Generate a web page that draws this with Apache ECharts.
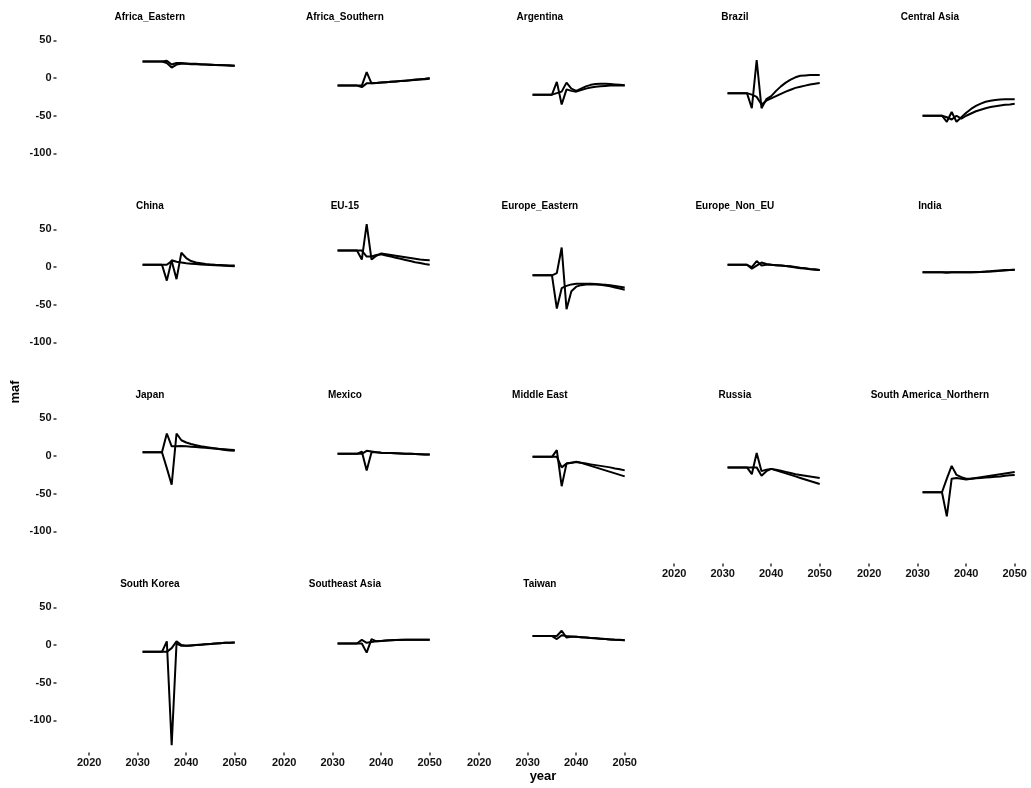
<!DOCTYPE html>
<html><head><meta charset="utf-8">
<script src="https://cdn.jsdelivr.net/npm/echarts@6/dist/echarts.min.js"></script>
<style>html,body{margin:0;padding:0;background:#fff}#c{width:1031px;height:788px}</style>
</head><body><div id="c"></div>
<script>
// ---------- data ----------
const years = [2031,2032,2033,2034,2035,2036,2037,2038,2039,2040,2041,2042,2043,2044,2045,2046,2047,2048,2049,2050];
const xDomain = [2015, 2050];
const xTicks = [2020, 2030, 2040, 2050];
const yTicks = [-100, -50, 0, 50];
const regions = ['Africa_Eastern','Africa_Southern','Argentina','Brazil','Central Asia',
  'China','EU-15','Europe_Eastern','Europe_Non_EU','India',
  'Japan','Mexico','Middle East','Russia','South America_Northern',
  'South Korea','Southeast Asia','Taiwan'];

const africaEastern_a = [22,22,22,22,22,20,14,18,19,19,18.5,18.5,18,18,17.5,17.5,17,17,16.5,16.5];
const africaEastern_b = [22,22,22,22,22,23,18,20,20,19.5,19,19,18.5,18,18,17.5,17.5,17,17,16.5];
const africaSouthern_a = [-10,-10,-10,-10,-10,-10,8,-7,-6.5,-6,-5.5,-5,-4.5,-4,-3.5,-3,-2.5,-2,-1.5,-1];
const africaSouthern_b = [-10,-10,-10,-10,-10,-12,-7,-7,-6.5,-6,-5.5,-5,-4.5,-4,-3.5,-3,-2,-1.5,-1,0];
const argentina_a = [-22,-22,-22,-22,-22,-5,-35,-15,-17,-18,-16,-14,-12.5,-11.5,-11,-10.5,-10,-10,-10,-10];
const argentina_b = [-22,-22,-22,-22,-22,-20,-18,-6,-14,-17,-14,-11,-9,-8,-7.5,-7.5,-8,-8.5,-9,-9.5];
const brazil_a = [-20,-20,-20,-20,-20,-40,24,-40,-28,-24,-17,-11,-6,-2,1,3,3.5,4,4,4];
const brazil_b = [-20,-20,-20,-20,-20,-22,-25,-35,-30,-27,-24,-21,-18,-15.5,-13,-11.5,-10,-8.5,-7.5,-6.5];
const centralAsia_a = [-50,-50,-50,-50,-50,-58,-45,-58,-52,-46,-41,-37,-34,-31.5,-30,-29,-28.5,-28,-28,-28];
const centralAsia_b = [-50,-50,-50,-50,-50,-52,-55,-50,-54,-50,-47,-44,-42,-40,-38.5,-37.5,-36.5,-35.5,-35,-34];
const china_a = [3,3,3,3,3,-18,9,7,6,5,4.5,4,3.5,3,2.7,2.4,2.1,1.8,1.5,1.2];
const china_b = [3,3,3,3,3,3,8,-16,19,12,8,6,5,4,3.5,3,2.7,2.4,2.1,2];
const eu15_a = [22,22,22,22,22,10,57,10,15,18,17,16,15,14,13,12,11,10,9.5,9];
const eu15_b = [22,22,22,22,22,22,14,14,16,17,15.5,14,12.5,11,9.5,8,6.5,5.5,4,3];
const europeEastern_a = [-11,-11,-11,-11,-11,-55,-28,-25,-23,-22,-22,-22,-22,-22.5,-23,-23.5,-24,-25,-26,-27];
const europeEastern_b = [-11,-11,-11,-11,-11,-8,26,-56,-32,-26,-24,-23,-23,-23,-23.5,-24.5,-25.5,-27,-28.5,-30];
const europeNonEU_a = [3,3,3,3,3,0,8,2,3,3,2.5,2,1.5,1,0,-1,-1.5,-2.5,-3,-4];
const europeNonEU_b = [3,3,3,3,3,-2,2,6,4,3,2.5,2,1.5,0.5,-0.5,-1.5,-2,-3,-3.5,-4];
const india_a = [-7,-7,-7,-7,-7,-7,-7,-7,-7,-7,-6.8,-6.6,-6.4,-6,-5.5,-5,-4.5,-4,-3.8,-3.5];
const india_b = [-7,-7,-7,-7,-7,-7.5,-7,-7,-7,-7,-7,-6.8,-6.6,-6.3,-6,-5.5,-5,-4.5,-4,-3.5];
const japan_a = [5,5,5,5,5,30,13,13,13.5,13,12.5,12,11.5,11,10.5,10,9.5,9,8.5,8];
const japan_b = [5,5,5,5,5,-16,-38,30,21,18,16,14.5,13,12,11,10,9,8,7.5,7];
const mexico_a = [3,3,3,3,3,6,-19,5,5,4.5,4.2,4,3.8,3.5,3.2,3,2.8,2.5,2.2,2];
const mexico_b = [3,3,3,3,3,3,7,6,5,4.5,4.2,4,3.8,3.5,3.2,3,2.8,2.5,2.2,2];
const middleEast_a = [-1,-1,-1,-1,-1,8,-40,-10,-9,-8,-9,-10,-11,-12,-13,-14,-15,-16.5,-17.5,-19];
const middleEast_b = [-1,-1,-1,-1,-1,-1,-15,-10,-9,-7.5,-9,-11,-13,-15,-17,-19,-21,-23,-25,-27];
const russia_a = [-15,-15,-15,-15,-15,-24,4,-20,-18,-17,-18,-19.5,-21,-22.5,-24,-25,-26,-27,-28,-29];
const russia_b = [-15,-15,-15,-15,-15,-15,-15,-26,-20,-17,-19,-21,-23,-25,-27,-29,-31,-33,-35,-37];
const saNorthern_a = [-48,-48,-48,-48,-48,-80,-30,-29,-30,-31,-30,-29,-28,-27,-26,-25,-24,-23,-22,-21];
const saNorthern_b = [-48,-48,-48,-48,-48,-30,-13,-25,-28,-30,-30,-29.5,-29,-28.5,-28,-27.5,-27,-26,-25.5,-25];
const southKorea_a = [-9,-9,-9,-9,-9,5,-133,2,-1,-1,-0.5,0,0.5,1,1.5,2,2.5,3,3,3.5];
const southKorea_b = [-9,-9,-9,-9,-9,-9,-4,5,0,-1,-0.5,0,0.5,1,1.5,2,2.5,3,3.2,3.5];
const seAsia_a = [2,2,2,2,2,2,-10,8,5,5.5,6,6.5,6.8,7,7,7,7,7,7,7];
const seAsia_b = [2,2,2,2,2,7,3,4,5,5.5,6,6.3,6.6,6.8,7,7,7,7,7,7];
const taiwan_a = [12,12,12,12,12,12,19,10,11,11,10.5,10,9.5,9,8.5,8,7.5,7,7,6.5];
const taiwan_b = [12,12,12,12,12,8,13,12,11.5,11,10.5,10,9.5,9,8.5,8,7.5,7,6.8,6.5];

const seriesA = [africaEastern_a, africaSouthern_a, argentina_a, brazil_a, centralAsia_a,
  china_a, eu15_a, europeEastern_a, europeNonEU_a, india_a,
  japan_a, mexico_a, middleEast_a, russia_a, saNorthern_a,
  southKorea_a, seAsia_a, taiwan_a];
const seriesB = [africaEastern_b, africaSouthern_b, argentina_b, brazil_b, centralAsia_b,
  china_b, eu15_b, europeEastern_b, europeNonEU_b, india_b,
  japan_b, mexico_b, middleEast_b, russia_b, saNorthern_b,
  southKorea_b, seAsia_b, taiwan_b];

// ---------- layout ----------
const NCOL = 5;
const colLeft0 = 56.5, colStep = 195, panelW = 186.7;
const rowTop0 = 28, rowStep = 189, panelH = 157.4;
const FONT = '"Liberation Sans", Arial, sans-serif';

// ggplot-like 5% expansion
const allVals = seriesA.concat(seriesB).flat();
const dMin = Math.min(...allVals), dMax = Math.max(...allVals);
const yPad = (dMax - dMin) * 0.05;
const yMin = dMin - yPad, yMax = dMax + yPad;
const xPad = (xDomain[1] - xDomain[0]) * 0.05;
const xMin = xDomain[0] - xPad, xMax = xDomain[1] + xPad;

const grids = [], xAxes = [], yAxes = [], series = [], graphics = [];
const n = regions.length;
regions.forEach((name, i) => {
  const r = Math.floor(i / NCOL), c = i % NCOL;
  const left = colLeft0 + colStep * c, top = rowTop0 + rowStep * r;
  grids.push({left: left, top: top, width: panelW, height: panelH, show: false});
  const isBottom = (i + NCOL) >= n;
  const isLeft = c === 0;
  xAxes.push({
    type: 'value', gridIndex: i, min: xMin, max: xMax, position: 'bottom',
    axisLine: {show: false, onZero: false}, splitLine: {show: false},
    axisTick: {show: isBottom, customValues: xTicks, length: 3, lineStyle: {color: '#333', width: 1.5}},
    axisLabel: {show: isBottom, customValues: xTicks, margin: 5, color: '#111',
      fontFamily: FONT, fontWeight: 'bold', fontSize: 11, formatter: v => String(v)}
  });
  yAxes.push({
    type: 'value', gridIndex: i, min: yMin, max: yMax, position: 'left',
    axisLine: {show: false, onZero: false}, splitLine: {show: false},
    axisTick: {show: isLeft, customValues: yTicks, length: 3, lineStyle: {color: '#333', width: 1.5}},
    axisLabel: {show: isLeft, customValues: yTicks, margin: 5, color: '#111',
      fontFamily: FONT, fontWeight: 'bold', fontSize: 11, formatter: v => String(v)}
  });
  [seriesA[i], seriesB[i]].forEach(vals => {
    series.push({
      type: 'line', xAxisIndex: i, yAxisIndex: i, showSymbol: false, silent: true,
      data: years.map((y, k) => [y, vals[k]]),
      lineStyle: {color: '#000', width: 2}, animation: false
    });
  });
  graphics.push({
    type: 'text', x: left + panelW / 2, y: top - 11,
    style: {text: name, fill: '#000', font: 'bold 10px ' + FONT,
      textAlign: 'center', textVerticalAlign: 'middle'}
  });
});
graphics.push({type: 'text', x: 543, y: 776,
  style: {text: 'year', fill: '#000', font: 'bold 13px ' + FONT, textAlign: 'center', textVerticalAlign: 'middle'}});
graphics.push({type: 'text', x: 15, y: 392, rotation: Math.PI / 2,
  style: {text: 'maf', fill: '#000', font: 'bold 13px ' + FONT, textAlign: 'center', textVerticalAlign: 'middle'}});

const chart = echarts.init(document.getElementById('c'), null, {renderer: 'canvas'});
chart.setOption({
  backgroundColor: '#fff', animation: false,
  grid: grids, xAxis: xAxes, yAxis: yAxes, series: series, graphic: graphics
});
</script></body></html>
